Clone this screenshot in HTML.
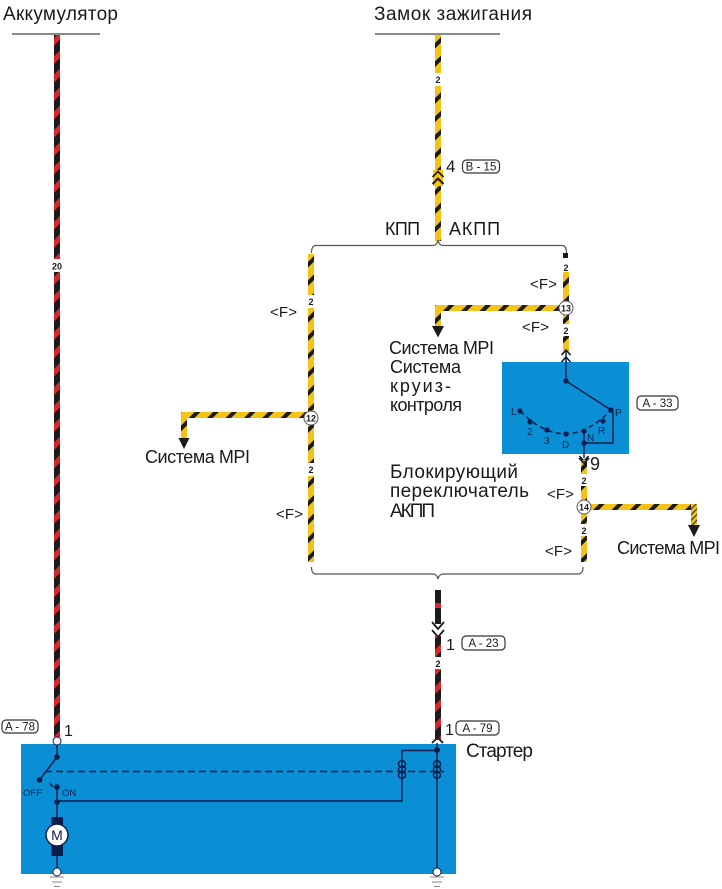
<!DOCTYPE html>
<html><head><meta charset="utf-8"><style>
html,body{margin:0;padding:0;background:#fff;}
svg{display:block;}
text{font-family:"Liberation Sans",Arial,sans-serif;fill:#1a1a1a;}
.sm{font-size:9px;font-weight:bold;text-anchor:middle;}
.f{font-size:15px;}
.cb{font-size:11.5px;text-anchor:middle;}
.nv{fill:#0b1d4d;font-size:10px;}
</style></head><body>
<svg width="722" height="889" viewBox="0 0 722 889" xmlns="http://www.w3.org/2000/svg">
<defs>
<pattern id="py" patternUnits="userSpaceOnUse" width="13" height="13" patternTransform="rotate(45)"><rect width="13" height="13" fill="#f5c315"/><rect width="4" height="13" fill="#1b1b1b"/></pattern>
<pattern id="pr" patternUnits="userSpaceOnUse" width="13" height="13" patternTransform="rotate(45)"><rect width="13" height="13" fill="#1b1b1b"/><rect width="5.5" height="13" fill="#d8262a"/></pattern>
<pattern id="ph" patternUnits="userSpaceOnUse" width="4" height="4" patternTransform="rotate(45)"><rect width="4" height="4" fill="#f5c315"/><rect width="1.2" height="4" fill="#333"/></pattern>
</defs>

<!-- Top titles -->
<text x="3" y="20" font-size="19" textLength="115">Аккумулятор</text>
<line x1="12" y1="34" x2="100" y2="34" stroke="#444" stroke-width="1.2"/>
<text x="374" y="20" font-size="19" textLength="158">Замок зажигания</text>
<line x1="375" y1="34" x2="500" y2="34" stroke="#444" stroke-width="1.2"/>

<!-- Left battery wire -->
<rect x="54" y="35" width="6" height="702" fill="url(#pr)"/>
<rect x="50" y="259" width="14" height="13" fill="#fff"/>
<text x="57" y="269.5" class="sm" font-size="10">20</text>

<!-- Ignition wire -->
<rect x="435" y="35" width="6" height="206" fill="url(#py)"/>
<rect x="433" y="73" width="10" height="13" fill="#fff"/>
<text x="438" y="83" class="sm">2</text>
<rect x="433" y="170" width="10" height="16" fill="#f5c315"/>
<polyline points="432.5,177 438,171.5 443.5,177" fill="none" stroke="#1b1b1b" stroke-width="1.6"/>
<polyline points="432.5,184 438,178.5 443.5,184" fill="none" stroke="#1b1b1b" stroke-width="2"/>
<text x="446" y="172" font-size="17">4</text>
<rect x="462.5" y="160" width="37" height="13" rx="4" fill="#fff" stroke="#333" stroke-width="1.2"/>
<text x="481" y="170.5" class="cb">B - 15</text>

<text x="385" y="235" font-size="18" textLength="35">КПП</text>
<text x="449" y="235" font-size="18" textLength="51">АКПП</text>

<!-- Top brace -->
<path d="M311.5,253 Q311.5,245.5 316,245.5 L433,245.5 Q437,245.5 438,240 Q439,245.5 443,245.5 L562,245.5 Q566.5,245.5 566.5,253" fill="none" stroke="#555" stroke-width="1.2"/>

<!-- Left branch -->
<rect x="308" y="254" width="6" height="308" fill="url(#py)"/>
<rect x="306" y="295" width="10" height="13" fill="#fff"/>
<text x="311" y="305" class="sm">2</text>
<rect x="306" y="463" width="10" height="13" fill="#fff"/>
<text x="311" y="473" class="sm">2</text>
<text x="270" y="317" class="f" textLength="27">&lt;F&gt;</text>
<text x="276" y="519" class="f" textLength="27">&lt;F&gt;</text>
<rect x="182" y="412" width="126" height="6" fill="url(#py)"/>
<rect x="181" y="412" width="6" height="28" fill="url(#py)"/>
<polygon points="178.5,438 189.5,438 184,449" fill="#1b1b1b"/>
<circle cx="311" cy="418" r="7" fill="#fff" stroke="#555" stroke-width="1"/>
<text x="311" y="421.5" class="sm" font-weight="normal">12</text>
<text x="145" y="463" font-size="18" textLength="105">Система MPI</text>

<!-- Right branch (above A-33) -->
<rect x="563" y="253" width="5" height="5" fill="#1b1b1b"/>
<rect x="563" y="272" width="6" height="79" fill="url(#py)"/>
<text x="566" y="271" class="sm">2</text>
<rect x="561" y="324" width="10" height="12" fill="#fff"/>
<text x="566" y="334" class="sm">2</text>
<text x="530" y="289" class="f" textLength="27">&lt;F&gt;</text>
<text x="522" y="332" class="f" textLength="27">&lt;F&gt;</text>
<rect x="436" y="305" width="128" height="6" fill="url(#py)"/>
<rect x="435" y="305" width="6" height="22" fill="url(#py)"/>
<polygon points="432,326 444,326 438,337.5" fill="#1b1b1b"/>
<circle cx="566" cy="308" r="7" fill="#fff" stroke="#555" stroke-width="1"/>
<text x="566" y="311.5" class="sm" font-weight="normal">13</text>

<text x="389" y="354" font-size="18" textLength="105">Система MPI</text>
<text x="390" y="373" font-size="18" textLength="71">Система</text>
<text x="390" y="392" font-size="18" textLength="61">круиз-</text>
<text x="390" y="411" font-size="18" textLength="72">контроля</text>

<!-- A-33 box -->
<rect x="502" y="362" width="127" height="92" fill="#0a8fd5"/>
<polyline points="561.5,355 566,350 570.5,355" fill="none" stroke="#1b1b1b" stroke-width="1.6"/>
<polyline points="561.5,362 566,357 570.5,362" fill="none" stroke="#0b1d4d" stroke-width="1.6"/>
<g stroke="#0b1d4d" stroke-width="1.5" fill="none">
<line x1="566" y1="351" x2="566" y2="381"/>
<line x1="566" y1="381" x2="611" y2="410"/>
<path d="M520,411 Q566,457 611,410" stroke-dasharray="5,3.5"/>
<path d="M611,410 L613,412 L613,443 L584,443"/>
<line x1="584" y1="431" x2="584" y2="458"/>
<polyline points="579.5,456 584,461 588.5,456"/>
</g>
<g fill="#0b1d4d">
<circle cx="566" cy="381" r="2.6"/><circle cx="611" cy="410" r="2.6"/>
<circle cx="520" cy="411" r="2.6"/><circle cx="530" cy="422" r="2.6"/>
<circle cx="547" cy="430" r="2.6"/><circle cx="566" cy="434" r="2.6"/>
<circle cx="584" cy="431" r="2.6"/><circle cx="603" cy="421" r="2.6"/>
<circle cx="584" cy="443" r="2.6"/>
</g>
<text x="511" y="415" class="nv">L</text>
<text x="527" y="435" class="nv">2</text>
<text x="544" y="444" class="nv">3</text>
<text x="562" y="448" class="nv">D</text>
<text x="587" y="441" class="nv">N</text>
<text x="598" y="434" class="nv">R</text>
<text x="615" y="416" class="nv">P</text>
<rect x="637" y="396" width="41" height="14" rx="4" fill="#fff" stroke="#333" stroke-width="1.2"/>
<text x="657.5" y="407" class="cb">A - 33</text>

<!-- Exit wire from A-33 -->
<rect x="581" y="460" width="6" height="102" fill="url(#py)"/>
<polyline points="579,458 584,463 589,458" fill="none" stroke="#1b1b1b" stroke-width="1.8"/>
<rect x="579" y="474" width="10" height="12" fill="#fff"/>
<text x="584" y="484" class="sm">2</text>
<rect x="579" y="524" width="10" height="12" fill="#fff"/>
<text x="584" y="534" class="sm">2</text>
<text x="590" y="470" font-size="18">9</text>
<text x="547" y="499" class="f" textLength="27">&lt;F&gt;</text>
<text x="545" y="556" class="f" textLength="27">&lt;F&gt;</text>
<rect x="584" y="504" width="113" height="6" fill="url(#py)"/>
<rect x="691" y="504" width="6" height="22" fill="url(#ph)"/>
<polygon points="688,525 700,525 694,537" fill="#1b1b1b"/>
<circle cx="584" cy="507" r="7" fill="#fff" stroke="#555" stroke-width="1"/>
<text x="584" y="510.5" class="sm" font-weight="normal">14</text>
<text x="617" y="554" font-size="18" textLength="103">Система MPI</text>

<text x="390" y="478" font-size="19" textLength="128">Блокирующий</text>
<text x="390" y="497" font-size="19" textLength="139">переключатель</text>
<text x="390" y="517" font-size="19" textLength="45">АКПП</text>

<!-- Bottom brace -->
<path d="M311.5,567 Q311.5,574 316,574 L433,574 Q437,574 438,579 Q439,574 443,574 L578,574 Q583,574 583,567" fill="none" stroke="#555" stroke-width="1.2"/>

<!-- Bottom center wire -->
<rect x="435" y="590" width="6" height="34" fill="#1b1b1b"/>
<rect x="435" y="603" width="6" height="5" fill="#d8262a"/>
<polyline points="432,622 438,629 444,622" fill="none" stroke="#1b1b1b" stroke-width="1.8"/>
<polyline points="432,630 438,637 444,630" fill="none" stroke="#1b1b1b" stroke-width="1.8"/>
<rect x="435" y="636" width="6" height="104" fill="url(#pr)"/>
<rect x="433" y="657" width="10" height="12" fill="#fff"/>
<text x="438" y="667" class="sm">2</text>
<text x="446" y="650" font-size="16">1</text>
<rect x="462" y="636" width="43" height="14" rx="4" fill="#fff" stroke="#333" stroke-width="1.2"/>
<text x="483.5" y="647" class="cb">A - 23</text>
<text x="445" y="735" font-size="16">1</text>
<rect x="456" y="721" width="43" height="14" rx="4" fill="#fff" stroke="#333" stroke-width="1.2"/>
<text x="477.5" y="732" class="cb">A - 79</text>
<text x="466" y="757" font-size="19" textLength="67">Стартер</text>

<!-- A-78 -->
<rect x="2" y="720" width="36" height="13" rx="4" fill="#fff" stroke="#333" stroke-width="1.2"/>
<text x="20" y="730.5" class="cb">A - 78</text>
<text x="64" y="736" font-size="16">1</text>

<!-- Starter box -->
<rect x="21" y="744" width="435" height="130" fill="#0a8fd5"/>
<polyline points="432,743 437.5,737.5 443,743" fill="none" stroke="#1b1b1b" stroke-width="1.8"/>
<g stroke="#0b1d4d" stroke-width="1.5" fill="none">
<line x1="57" y1="745" x2="57" y2="757"/>
<line x1="57" y1="757" x2="39.5" y2="780"/>
<line x1="45" y1="771.5" x2="444" y2="771.5" stroke-dasharray="7,4"/>
<line x1="50" y1="783.5" x2="53" y2="787"/>
<line x1="57" y1="787" x2="57" y2="817"/>
<path d="M57,801 L402,801 L402,750.5 L437,750.5"/>
<line x1="437" y1="743" x2="437" y2="868"/>
<line x1="57" y1="855" x2="57" y2="868"/>
<ellipse cx="402" cy="764" rx="3.5" ry="3.2"/>
<ellipse cx="402" cy="769.5" rx="3.5" ry="3.2"/>
<ellipse cx="402" cy="775" rx="3.5" ry="3.2"/>
<ellipse cx="437" cy="764" rx="3.5" ry="3.2"/>
<ellipse cx="437" cy="769.5" rx="3.5" ry="3.2"/>
<ellipse cx="437" cy="775" rx="3.5" ry="3.2"/>
</g>
<g fill="#0b1d4d">
<circle cx="57" cy="757" r="2.8"/>
<circle cx="39.5" cy="780" r="2.8"/>
<circle cx="57" cy="787" r="2.8"/>
<circle cx="57" cy="802" r="2.8"/>
<circle cx="437" cy="750" r="3"/>
<rect x="51.5" y="817" width="11.5" height="39"/>
</g>
<text x="23" y="796" font-size="9.5" style="fill:#0b1d4d">OFF</text>
<text x="62" y="796" font-size="9.5" style="fill:#0b1d4d">ON</text>
<circle cx="57" cy="835" r="11" fill="#fff" stroke="#0b1d4d" stroke-width="1.5"/>
<text x="57" y="840" font-size="14" text-anchor="middle" style="fill:#0b1d4d">M</text>
<circle cx="57" cy="741" r="4" fill="#fff" stroke="#0b1d4d" stroke-width="1"/>
<circle cx="57" cy="872" r="4" fill="#fff" stroke="#0b1d4d" stroke-width="1"/>
<circle cx="437" cy="872" r="4" fill="#fff" stroke="#0b1d4d" stroke-width="1"/>
<g stroke="#888" stroke-width="1">
<line x1="50" y1="877" x2="64" y2="877"/><line x1="52" y1="882" x2="62" y2="882"/><line x1="54" y1="886.5" x2="60" y2="886.5"/>
<line x1="430" y1="877" x2="444" y2="877"/><line x1="432" y1="882" x2="442" y2="882"/><line x1="434" y1="886.5" x2="440" y2="886.5"/>
</g>
</svg>
</body></html>
